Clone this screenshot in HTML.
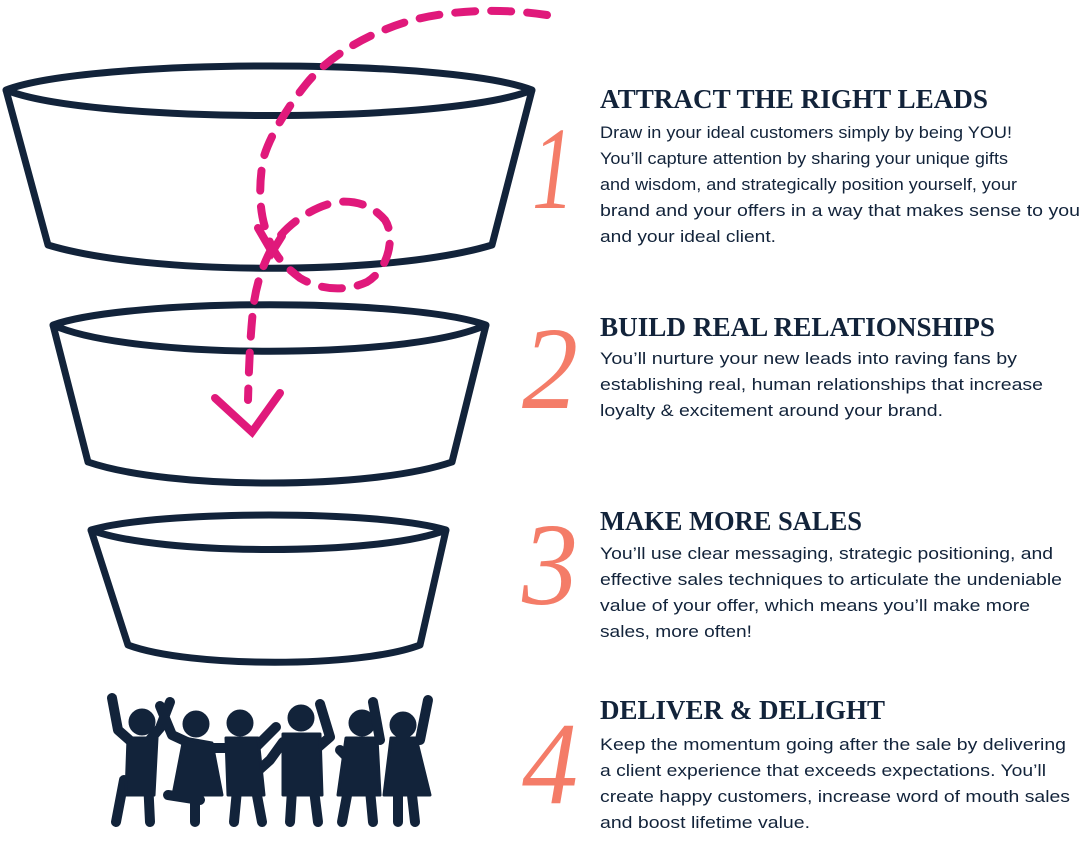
<!DOCTYPE html>
<html><head><meta charset="utf-8"><style>
html,body{margin:0;padding:0;background:#fff;}
svg{display:block}
.h{font-family:"Liberation Serif",serif;font-weight:bold;font-size:27px;fill:#12233a}
.b{font-family:"Liberation Sans",sans-serif;font-size:17px;fill:#12233a}
.n{font-family:"Liberation Serif",serif;font-style:italic;font-size:118px;fill:#f47c68}
</style></head><body>
<svg width="1080" height="845" viewBox="0 0 1080 845" xmlns="http://www.w3.org/2000/svg">
<g fill="none" stroke="#12233a" stroke-width="7" stroke-linejoin="round">
<path d="M6,90 C90,58 450,58 532,90 C450,124 90,124 6,90 Z"/>
<path d="M6,90 L48,245 C150,276 390,276 492,245 L532,90"/>
<path d="M53,325 C130,298 410,298 486,325 C410,360 130,360 53,325 Z"/>
<path d="M53,325 L88,462 C170,490 370,490 452,462 L486,325"/>
<path d="M91,530 C160,510 380,510 446,530 C380,556 160,556 91,530 Z"/>
<path d="M91,530 L128,645 C190,668 360,668 420,645 L446,530"/>
</g>
<g fill="none" stroke="#e0197b" stroke-width="8" stroke-linecap="round">
<path stroke-dasharray="20 16" d="M547,15 C500,8 453,10 413,20 C370,32 330,55 307,83 C285,110 268,140 263,160 C258,190 260,215 267,233 C272,253 283,265 300,278 C320,290 345,292 367,282 C390,268 395,235 385,220 C372,205 355,200 337,202 C315,206 290,222 277,240 C262,262 255,290 253,310 C250,340 249,365 248,400"/>
<path d="M215,398 L252,432 L280,393"/>
<path d="M258,228 L272,252 L282,236"/>
</g>
<g class="h">
<text x="600" y="108" textLength="388" lengthAdjust="spacingAndGlyphs">ATTRACT THE RIGHT LEADS</text>
<text x="600" y="336" textLength="395" lengthAdjust="spacingAndGlyphs">BUILD REAL RELATIONSHIPS</text>
<text x="600" y="530" textLength="262" lengthAdjust="spacingAndGlyphs">MAKE MORE SALES</text>
<text x="600" y="719" textLength="285" lengthAdjust="spacingAndGlyphs">DELIVER &amp; DELIGHT</text>
</g>
<g class="n">
<text x="532" y="208" textLength="42" lengthAdjust="spacingAndGlyphs">1</text>
<text x="522" y="408" textLength="56" lengthAdjust="spacingAndGlyphs">2</text>
<text x="522" y="604" textLength="56" lengthAdjust="spacingAndGlyphs">3</text>
<text x="522" y="803" textLength="56" lengthAdjust="spacingAndGlyphs">4</text>
</g>
<g class="b">
<text x="600" y="138" textLength="412" lengthAdjust="spacingAndGlyphs">Draw in your ideal customers simply by being YOU!</text>
<text x="600" y="164" textLength="408" lengthAdjust="spacingAndGlyphs">You’ll capture attention by sharing your unique gifts</text>
<text x="600" y="190" textLength="417" lengthAdjust="spacingAndGlyphs">and wisdom, and strategically position yourself, your</text>
<text x="600" y="216" textLength="480" lengthAdjust="spacingAndGlyphs">brand and your offers in a way that makes sense to you</text>
<text x="600" y="242" textLength="176" lengthAdjust="spacingAndGlyphs">and your ideal client.</text>
<text x="600" y="364" textLength="417" lengthAdjust="spacingAndGlyphs">You’ll nurture your new leads into raving fans by</text>
<text x="600" y="390" textLength="443" lengthAdjust="spacingAndGlyphs">establishing real, human relationships that increase</text>
<text x="600" y="416" textLength="343" lengthAdjust="spacingAndGlyphs">loyalty &amp; excitement around your brand.</text>
<text x="600" y="559" textLength="453" lengthAdjust="spacingAndGlyphs">You’ll use clear messaging, strategic positioning, and</text>
<text x="600" y="585" textLength="462" lengthAdjust="spacingAndGlyphs">effective sales techniques to articulate the undeniable</text>
<text x="600" y="611" textLength="430" lengthAdjust="spacingAndGlyphs">value of your offer, which means you’ll make more</text>
<text x="600" y="637" textLength="152" lengthAdjust="spacingAndGlyphs">sales, more often!</text>
<text x="600" y="750" textLength="466" lengthAdjust="spacingAndGlyphs">Keep the momentum going after the sale by delivering</text>
<text x="600" y="776" textLength="446" lengthAdjust="spacingAndGlyphs">a client experience that exceeds expectations. You’ll</text>
<text x="600" y="802" textLength="470" lengthAdjust="spacingAndGlyphs">create happy customers, increase word of mouth sales</text>
<text x="600" y="828" textLength="210" lengthAdjust="spacingAndGlyphs">and boost lifetime value.</text>
</g>
<g fill="#12233a" stroke="#12233a" stroke-linecap="round" stroke-linejoin="round">
<circle cx="142" cy="722" r="13"/><circle cx="196" cy="724" r="13"/><circle cx="240" cy="723" r="13"/>
<circle cx="301" cy="718" r="13"/><circle cx="362" cy="723" r="13"/><circle cx="403" cy="725" r="13"/>
<g fill="none" stroke-width="10">
<path d="M112,698 L118,730 L135,745"/><path d="M170,702 L160,728 L148,742"/>
<path d="M160,706 L172,735 L200,748 L230,748"/><path d="M276,727 L255,748 L235,750"/>
<path d="M320,704 L330,737 L315,750"/><path d="M283,742 L270,760 L250,778"/>
<path d="M340,750 L360,770"/><path d="M373,702 L380,740"/><path d="M428,700 L420,740"/>
<path d="M124,780 L116,822"/><path d="M148,780 L150,822"/>
<path d="M195,800 L195,822"/><path d="M168,795 L200,800"/>
<path d="M237,790 L234,822"/><path d="M256,790 L262,822"/>
<path d="M292,790 L290,822"/><path d="M314,790 L318,822"/>
<path d="M348,790 L342,822"/><path d="M370,790 L373,822"/>
<path d="M398,795 L398,822"/><path d="M412,795 L415,822"/>
</g>
<path stroke-width="3" d="M128,738 L157,738 L154,795 L126,795 Z"/>
<path stroke-width="3" d="M184,738 L212,743 L222,795 L173,795 Z"/>
<path stroke-width="3" d="M226,738 L258,738 L264,795 L228,795 Z"/>
<path stroke-width="3" d="M283,734 L320,734 L322,795 L283,795 Z"/>
<path stroke-width="3" d="M346,738 L377,738 L380,795 L338,795 Z"/>
<path stroke-width="3" d="M391,738 L416,738 L430,795 L384,795 Z"/>
</g>
</svg>
</body></html>
